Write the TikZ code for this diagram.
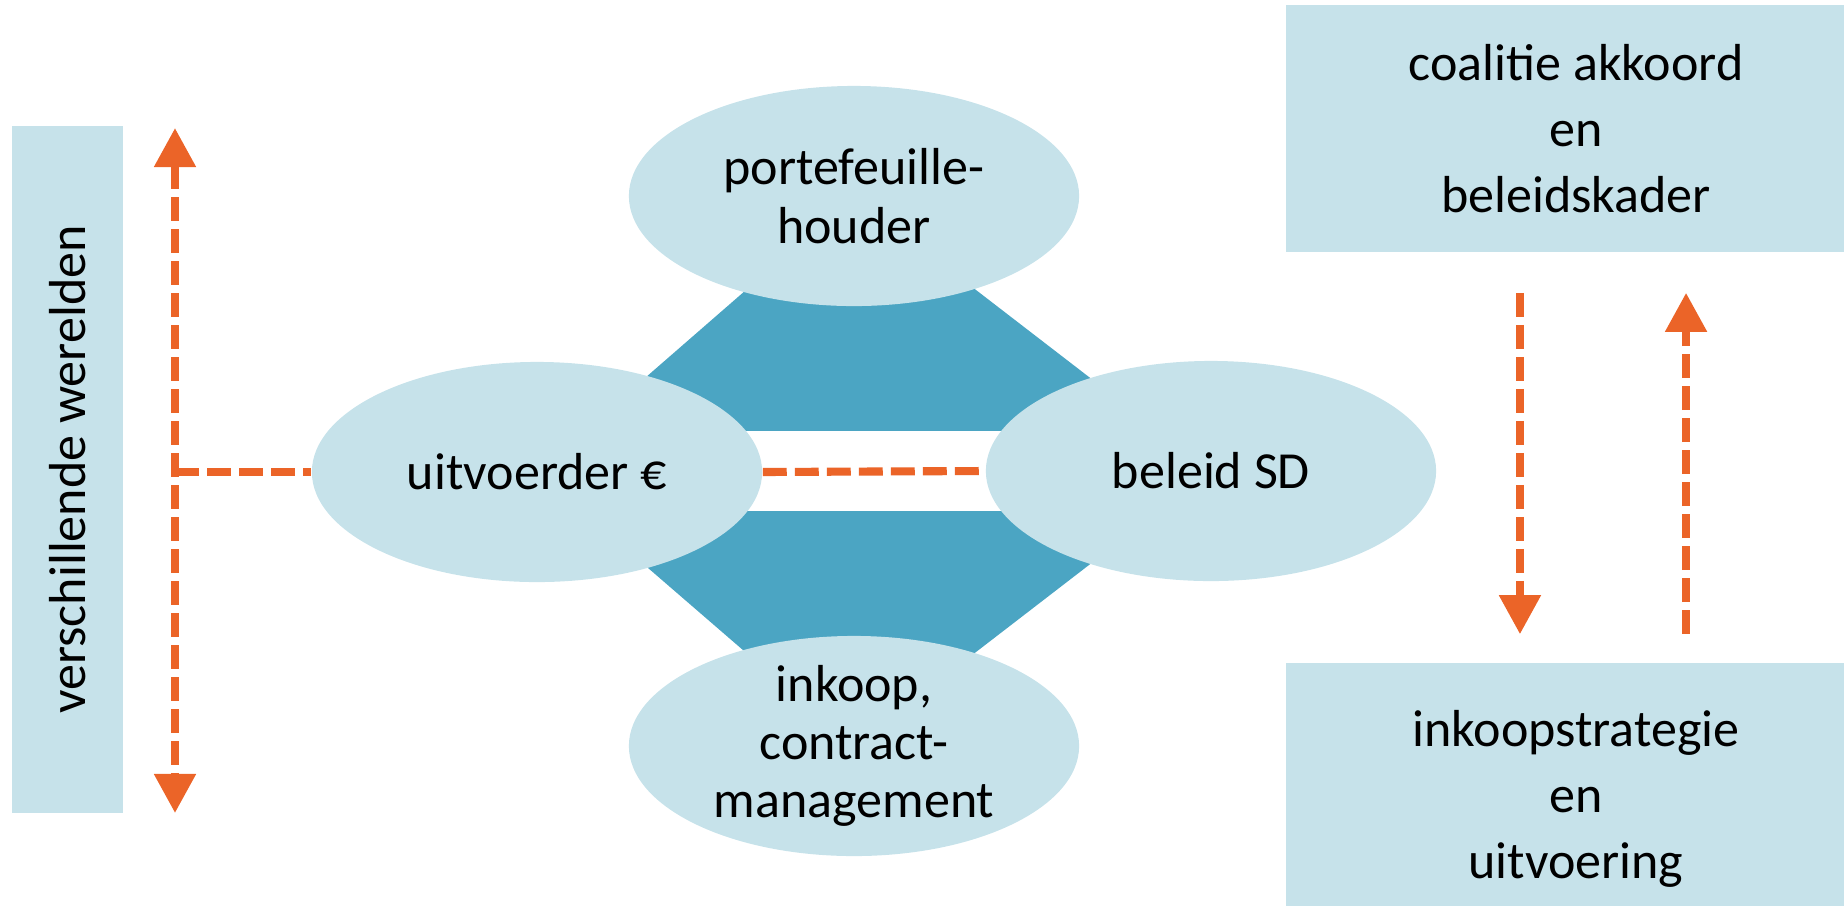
\documentclass[tikz,border=0pt]{standalone}
\usepackage{fontspec}
\setmainfont{Carlito}
\usepackage{xcolor}
\usepackage{tikz}
\usetikzlibrary{shapes.geometric, arrows.meta, positioning, backgrounds}

\definecolor{lichtblauw}{HTML}{C6E2EA}
\definecolor{donkerblauw}{HTML}{4BA5C3}
\definecolor{oranje}{HTML}{EB6428}

\begin{document}
\begin{tikzpicture}[x=0.01cm, y=-0.01cm,
    oval/.style={ellipse, fill=lichtblauw, minimum width=4.5cm, minimum height=2.2cm, inner sep=0pt},
    vak/.style={rectangle, fill=lichtblauw, align=center, font=\fontsize{14.8}{18.8}\selectfont},
    txt/.style={align=center, font=\fontsize{14.8}{16.6}\selectfont},
    stippel/.style={draw=oranje, line width=2.3pt, dash pattern=on 6.8pt off 2.3pt},
    pijl/.style={stippel, -{Triangle[length=3.9mm, width=4mm]}},
    dubbelpijl/.style={stippel, {Triangle[length=3.9mm, width=4mm]}-{Triangle[length=3.9mm, width=4mm]}}]

    \useasboundingbox (0,0) rectangle (1844,905);

    % de vier partijen
    \node[oval] (pf) at (854,196) {}
      node[txt] at (pf) {portefeuille-\\houder};
    \node[oval] (uit) at (537,472) {}
      node[txt] at (uit) {uitvoerder €};
    \node[oval] (bel) at (1211,471) {}
      node[txt] at (bel) {beleid SD};
    \node[oval] (ink) at (854,746) {}
      node[txt] at (ink) {inkoop,\\contract-\\management};

    \begin{scope}[on background layer]
      \fill[donkerblauw] (pf.center) -- (bel.center) -- (ink.center) -- (uit.center) -- cycle;
      \fill[white] ([yshift=0.41cm]uit.center) rectangle ([yshift=-0.40cm]bel.center);
    \end{scope}

    \draw[stippel] (uit.east) -- (bel.west);

    % werelden links
    \node[fill=lichtblauw, minimum width=6.87cm, minimum height=1.11cm, rotate=90,
      font=\fontsize{14.8}{17}\selectfont] (wer) at (67.5,469.5) {verschillende werelden};
    \coordinate (wtop) at (175,128);
    \coordinate (wbot) at (175,813);
    \draw[dubbelpijl] (wtop) -- (wbot);
    \draw[stippel] (wtop |- uit) -- (uit.west);

    % kaders rechts
    \node[vak, minimum width=5.8cm, minimum height=2.47cm] (coal) at (1576,128.5)
      {coalitie akkoord\\en\\beleidskader};
    \node[vak, minimum width=5.8cm, minimum height=2.72cm] (inks) at (1576,799)
      {inkoopstrategie\\en\\uitvoering};

    \draw[pijl] ([xshift=-0.56cm, yshift=-0.40cm]coal.south) -- ([xshift=-0.56cm, yshift=0.28cm]inks.north);
    \draw[pijl] ([xshift=1.10cm, yshift=0.28cm]inks.north) -- ([xshift=1.10cm, yshift=-0.40cm]coal.south);
\end{tikzpicture}
\end{document}
